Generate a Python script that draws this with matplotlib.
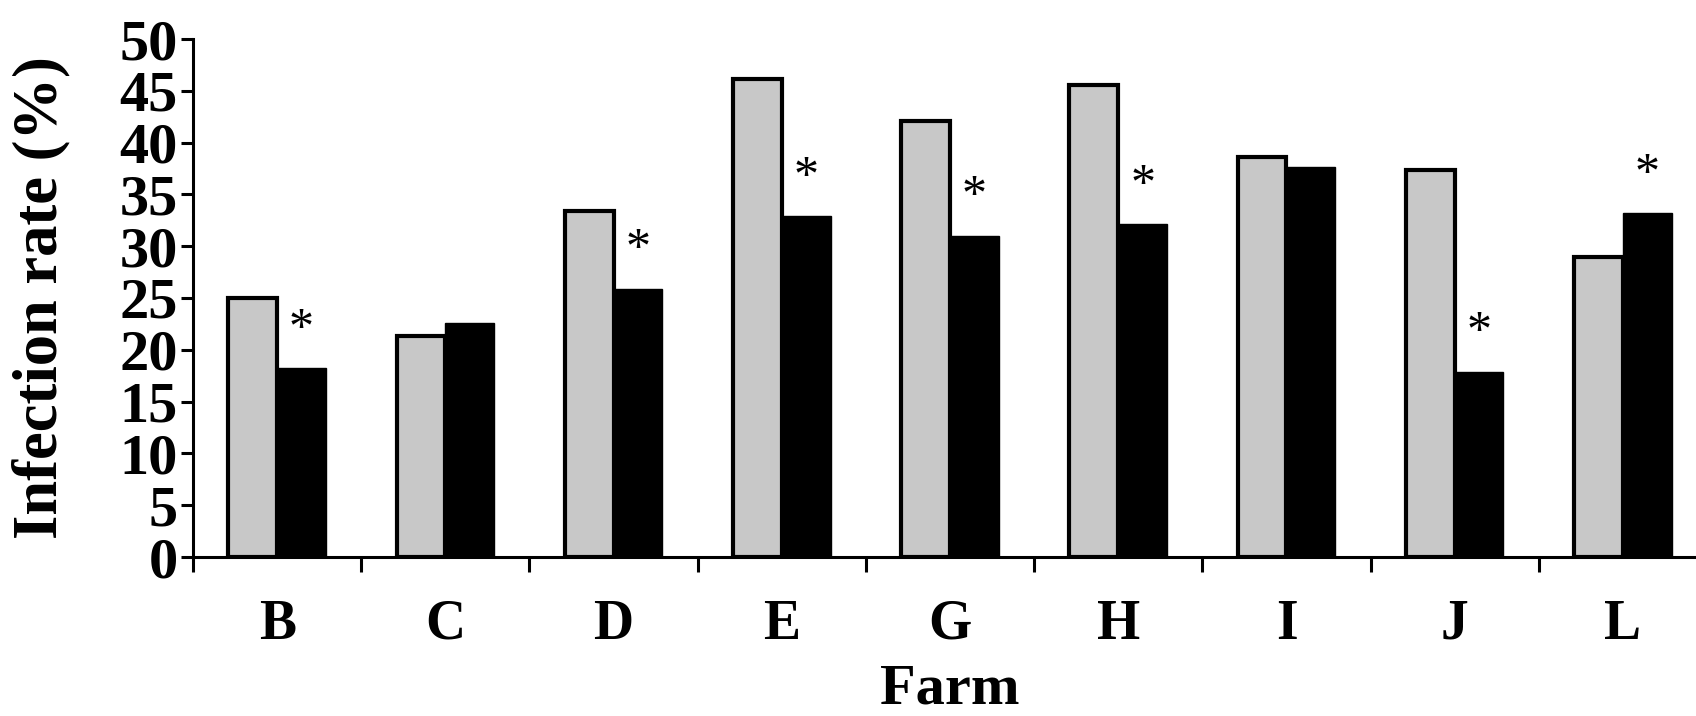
import matplotlib
matplotlib.use("Agg")
import matplotlib.pyplot as plt
import numpy as np

farms = ["B", "C", "D", "E", "G", "H", "I", "J", "L"]
series_gray = [25.0, 21.3, 33.4, 46.1, 42.1, 45.6, 38.6, 37.4, 29.0]
series_black = [18.2, 22.6, 25.9, 32.9, 31.0, 32.1, 37.6, 17.9, 33.2]
significant = [True, False, True, True, True, True, False, True, True]
yticks = [0, 5, 10, 15, 20, 25, 30, 35, 40, 45, 50]

plt.rcParams['font.family'] = ['Liberation Serif', 'DejaVu Serif']
plt.rcParams['font.weight'] = 'bold'

fig = plt.figure(figsize=(16.96, 7.16), dpi=100)
ax = fig.add_axes([193/1696, 159/716, 1514/1696, 518/716])

x = np.arange(len(farms))
w = 0.29
ax.bar(x - w, series_gray, width=w, align='edge', color='#c8c8c8',
       edgecolor='black', linewidth=3.0, zorder=3)
ax.bar(x, series_black, width=w, align='edge', color='black',
       edgecolor='black', linewidth=1.0, zorder=3)

for xi, v, s in zip(x, series_black, significant):
    if s:
        ax.text(xi + w/2, v + 1.5, '*', ha='center', va='bottom',
                fontsize=36, fontweight='normal')

ax.set_xlim(-0.5, len(farms) - 0.5)
ax.set_ylim(0, 50)
ax.set_yticks(yticks)
ax.set_yticklabels([str(t) for t in yticks], fontsize=42, fontweight='bold')
ax.set_xticks(x)
ax.set_xticklabels(farms, fontsize=40, fontweight='bold')
ax.set_xticks(np.arange(len(farms) + 1) - 0.5, minor=True)
ax.tick_params(axis='x', which='major', length=0, pad=30)
ax.tick_params(axis='x', which='minor', length=11, width=2.2, direction='out')
ax.tick_params(axis='y', which='major', length=9, width=2.2, direction='out', pad=2)

for side in ['top', 'right']:
    ax.spines[side].set_visible(False)
for side in ['left', 'bottom']:
    ax.spines[side].set_linewidth(2.2)

ax.set_xlabel('Farm', fontsize=42, fontweight='bold', labelpad=9)
ax.set_ylabel('Infection rate (%)', fontsize=45, fontweight='bold')
ax.yaxis.set_label_coords(-0.081, 0.5)

fig.savefig('out.png', dpi=100)
